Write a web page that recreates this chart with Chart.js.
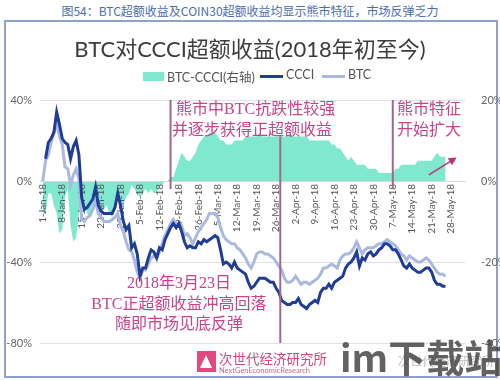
<!DOCTYPE html>
<html>
<head>
<meta charset="utf-8">
<script src="https://cdn.jsdelivr.net/npm/chart.js@4.4.0/dist/chart.umd.min.js"></script>
<style>
  body { margin: 0; width: 500px; height: 380px; position: relative; background: #fff; overflow: hidden;
         font-family: Lato, "Noto Sans CJK SC", sans-serif; }
  #caption { position: absolute; top: 2px; left: 0; width: 500px; text-align: center; font-size: 12px;
             color: #4a6db0; font-family: "Noto Sans CJK SC", sans-serif; }
  #frame { position: absolute; left: 4px; top: 20px; width: 490px; height: 354px; border: 2px solid #8fa1cf; }
  #chart { position: absolute; left: 0; top: 0; }
  #title { position: absolute; top: 31px; left: 0; width: 500px; text-align: center; font-size: 22px; color: #3c3c3c; }
  .lg { position: absolute; top: 67px; font-size: 12.5px; color: #555; }
  .sw { position: absolute; }
  #logoBox { position: absolute; left: 197px; top: 351px; width: 19px; height: 21px; background: #e2497c; }
  #logoBox:after { content: ""; position: absolute; left: 3px; top: 4px; border-left: 6.5px solid transparent;
                   border-right: 6.5px solid transparent; border-bottom: 13px solid #fff; }
  #logoCn { position: absolute; left: 219px; top: 348px; font-size: 13.5px; color: #d9477a;
            font-family: "Noto Sans CJK SC", sans-serif; }
  #logoEn { position: absolute; left: 219px; top: 366px; font-size: 7.5px; color: #c46a86; }
  #wm { position: absolute; left: 340px; top: 334px; font-size: 38px; font-weight: bold; color: rgba(70,70,70,0.85);
        font-family: "Noto Sans CJK SC", sans-serif; line-height: 44px; white-space: nowrap; }
  #wm2 { position: absolute; left: 398px; top: 352px; font-size: 12px; color: rgba(120,120,120,0.5);
         font-family: "Noto Sans CJK SC", sans-serif; }
</style>
</head>
<body>
<div id="caption">图54：BTC超额收益及COIN30超额收益均显示熊市特征，市场反弹乏力</div>
<div id="frame"></div>
<canvas id="chart" width="500" height="380"></canvas>
<div id="title">BTC对CCCI超额收益(2018年初至今)</div>
<div class="sw" style="left:143px;top:72px;width:21px;height:9px;background:#80e8cf"></div>
<div class="lg" style="left:167px">BTC-CCCI(右轴)</div>
<div class="sw" style="left:260px;top:75px;width:23px;height:3px;background:#1f3d96"></div>
<div class="lg" style="left:286px">CCCI</div>
<div class="sw" style="left:322px;top:75px;width:23px;height:3px;background:#a9b9e2"></div>
<div class="lg" style="left:348px">BTC</div>
<div id="logoBox"></div>
<div id="logoCn">次世代经济研究所</div>
<div id="logoEn">NextGenEconomicResearch</div>
<div id="wm2">次世代经济研究所</div>
<div id="wm">im下载站</div>

<script>
// day 0 = 1-Jan-18
const tickDays = [0, 7, 14, 21, 28, 35, 42, 49, 56, 63, 70, 77, 84, 91, 98, 105, 112, 119, 126, 133, 140, 147];
const tickLabels = ["1-Jan-18", "8-Jan-18", "15-Jan-18", "22-Jan-18", "29-Jan-18", "5-Feb-18", "12-Feb-18",
  "19-Feb-18", "26-Feb-18", "5-Mar-18", "12-Mar-18", "19-Mar-18", "26-Mar-18", "2-Apr-18", "9-Apr-18",
  "16-Apr-18", "23-Apr-18", "30-Apr-18", "7-May-18", "14-May-18", "21-May-18", "28-May-18"];

// CCCI excess return (%), left axis, daily from day 1
const ccciStart = 1;
const ccciVals = [
  11, 19, 21, 24, 34, 28, 21, 19, 18, 11, 17, 20, 13, -8, -14, -13, -11, -9, -3, -12,
  -15, -16, -16, -16, -16, -13, -6, -12, -20, -24, -22, -33, -31, -36, -47, -43, -43, -38, -34, -35,
  -38, -33, -34, -29, -26, -23, -21, -23, -21, -25, -30, -33, -32, -33, -33, -30, -31, -29, -30, -29,
  -28, -27, -28, -34, -41, -40, -41, -43, -40, -43, -44, -45, -46, -50, -53, -52, -50, -48, -48, -48,
  -49, -50, -50, -53, -55, -59, -60, -61, -61, -60, -60, -58, -61, -62, -63, -61, -60, -59, -60, -55,
  -53, -53, -51, -53, -50, -49, -48, -47, -43, -41, -40, -38, -35, -42, -38, -39, -36, -35, -37, -36,
  -34, -33, -31, -31, -32, -34, -34, -36, -39, -42, -43, -41, -43, -44, -45, -45, -44, -43, -43, -45,
  -49, -51, -51, -52, -52];

// BTC excess return (%), left axis, daily from day 0
const btcStart = 0;
const btcVals = [
  0, 10, 13, 19, 24, 28, 22, 18, 7, 6, -2, 3, 6, 1, -19, -20, -18, -17, -14, -10,
  -16, -18, -20, -20, -20, -19, -18, -16, -22, -25, -30, -34, -35, -39, -45, -48, -44, -44, -41, -38,
  -37, -38, -35, -31, -27, -24, -21, -19, -21, -21, -22, -27, -26, -28, -31, -28, -25, -23, -21, -19,
  -16, -16, -16, -18, -23, -27, -29, -30, -31, -31, -33, -34, -36, -38, -41, -43, -40, -36, -35, -35,
  -36, -36, -37, -38, -40, -42, -44, -48, -50, -50, -49, -47, -49, -51, -50, -50, -51, -50, -49, -48,
  -46, -43, -43, -42, -41, -42, -43, -39, -37, -36, -36, -35, -33, -30, -33, -36, -34, -33, -33, -33,
  -32, -31, -31, -30, -29, -30, -31, -32, -34, -36, -37, -39, -37, -38, -39, -40, -40, -39, -38, -39,
  -41, -43, -45, -46, -46, -47];

// BTC-CCCI (%), right axis, daily from day 0
const spreadStart = 0;
const spreadVals = [
  -8, -8, -3, -3, -6, -8, -13, -12, -4, -2, -11, -15, -14, -8, -3, -5, -8, -9, -6, -5,
  -7, -8, -7, -6, -8, -9, -6, -4, -5, -6, -4, -3, -1, -2, -3, -4, -3, -2, -3, -2,
  -3, -3, -1, -1, 0, 0, 1, 1, 3, 5, 7, 6, 5, 5, 6, 7, 9, 10, 11, 11,
  12, 12, 12, 11, 10, 10, 9, 9, 9, 10, 10, 10, 10, 11, 11, 11, 11, 11, 12, 11,
  11, 11, 11, 11, 11, 11, 11, 11, 11, 12, 11, 11, 11, 11, 11, 11, 10, 10, 10, 10,
  10, 10, 10, 10, 9, 9, 8, 8, 7, 6, 5, 6, 5, 4, 4, 4, 4, 3, 3, 3,
  3, 2, 2, 2, 2, 2, 2, 3, 3, 4, 4, 4, 4, 4, 4, 5, 5, 5, 5, 5,
  5, 6, 7, 6, 6, 6];

const toPoints = (start, vals) => vals.map((v, i) => ({ x: start + i, y: v }));

// annotation marks: vertical lines (day, from %, to % on left axis)
const markLines = [
  { day: 46, from: 40, to: -4 },
  { day: 85.5, from: 22, to: -80 },
  { day: 126, from: 40, to: -4 }
];
const noteTexts = [
  { text: "熊市中BTC抗跌性较强", day: 48, val: 35, align: "left" },
  { text: "并逐步获得正超额收益", day: 46.5, val: 25, align: "left" },
  { text: "熊市特征", day: 127.5, val: 35, align: "left" },
  { text: "开始扩大", day: 127.5, val: 25, align: "left" },
  { text: "2018年3月23日", day: 49, val: -51, align: "center" },
  { text: "BTC正超额收益冲高回落", day: 49, val: -61, align: "center" },
  { text: "随即市场见底反弹", day: 49, val: -71, align: "center" }
];
const arrowFrom = { day: 139, val: 1.5 };
const arrowTo = { day: 149, val: 5.8 };

const notesPlugin = {
  id: "notes",
  afterDatasetsDraw(chart) {
    const { ctx } = chart;
    const x = chart.scales.x, y = chart.scales.y, y2 = chart.scales.y2;
    ctx.save();
    ctx.strokeStyle = "#a2668f";
    ctx.lineWidth = 2;
    markLines.forEach((m) => {
      const px = x.getPixelForValue(m.day);
      ctx.beginPath();
      ctx.moveTo(px, y.getPixelForValue(m.from));
      ctx.lineTo(px, y.getPixelForValue(m.to));
      ctx.stroke();
    });
    ctx.fillStyle = "#c9428c";
    ctx.font = '16px "Liberation Serif", "Noto Sans CJK SC"';
    ctx.textBaseline = "middle";
    noteTexts.forEach((t) => {
      ctx.textAlign = t.align;
      ctx.fillText(t.text, x.getPixelForValue(t.day), y.getPixelForValue(t.val));
    });
    // arrow
    const x0 = x.getPixelForValue(arrowFrom.day), yA = y2.getPixelForValue(arrowFrom.val);
    const x1 = x.getPixelForValue(arrowTo.day), yB = y2.getPixelForValue(arrowTo.val);
    const ang = Math.atan2(yB - yA, x1 - x0);
    ctx.strokeStyle = "#b8357a";
    ctx.fillStyle = "#b8357a";
    ctx.lineWidth = 1.5;
    ctx.beginPath();
    ctx.moveTo(x0, yA);
    ctx.lineTo(x1 - 6 * Math.cos(ang), yB - 6 * Math.sin(ang));
    ctx.stroke();
    ctx.beginPath();
    ctx.moveTo(x1, yB);
    ctx.lineTo(x1 - 8 * Math.cos(ang) + 4 * Math.sin(ang), yB - 8 * Math.sin(ang) - 4 * Math.cos(ang));
    ctx.lineTo(x1 - 8 * Math.cos(ang) - 4 * Math.sin(ang), yB - 8 * Math.sin(ang) + 4 * Math.cos(ang));
    ctx.closePath();
    ctx.fill();
    ctx.restore();
  }
};

const tickFont = { family: 'Lato, "Noto Sans CJK SC"', size: 11 };

new Chart(document.getElementById("chart"), {
  type: "line",
  data: {
    datasets: [
      {
        label: "CCCI",
        data: toPoints(ccciStart, ccciVals),
        borderColor: "#1f3d96",
        borderWidth: 3,
        pointRadius: 0,
        fill: false,
        yAxisID: "y",
        order: 1
      },
      {
        label: "BTC",
        data: toPoints(btcStart, btcVals),
        borderColor: "#a9b9e2",
        borderWidth: 3,
        pointRadius: 0,
        fill: false,
        yAxisID: "y",
        order: 2
      },
      {
        label: "BTC-CCCI(右轴)",
        data: toPoints(spreadStart, spreadVals),
        borderColor: "rgba(0,0,0,0)",
        borderWidth: 0,
        backgroundColor: "#80e8cf",
        pointRadius: 0,
        fill: "origin",
        yAxisID: "y2",
        order: 3
      }
    ]
  },
  options: {
    responsive: false,
    animation: false,
    layout: { padding: { top: 100, bottom: 37, left: 0, right: 0 } },
    plugins: {
      legend: { display: false },
      title: { display: false },
      tooltip: { enabled: false },
      filler: { drawTime: "beforeDraw" }
    },
    scales: {
      x: {
        type: "linear",
        min: -1,
        max: 152,
        position: { y: 0 },
        grid: { display: false, drawTicks: false },
        border: { display: true, color: "#d9d9d9" },
        afterBuildTicks: (s) => { s.ticks = tickDays.map((d) => ({ value: d })); },
        ticks: {
          autoSkip: false,
          minRotation: 90,
          maxRotation: 90,
          padding: 3,
          color: "#555",
          font: { family: 'Lato, "Noto Sans CJK SC"', size: 10 },
          callback: (v, i) => tickLabels[i]
        }
      },
      y: {
        position: "left",
        min: -80,
        max: 40,
        ticks: { stepSize: 40, padding: 8, color: "#666", font: tickFont, callback: (v) => v + "%" },
        grid: { color: "#e2e2e2", drawTicks: false },
        border: { display: false },
        afterFit: (s) => { s.width = 40; }
      },
      y2: {
        position: "right",
        min: -40,
        max: 20,
        ticks: { stepSize: 20, padding: 8, color: "#666", font: tickFont, callback: (v) => v + "%" },
        grid: { display: false },
        border: { display: false },
        afterFit: (s) => { s.width = 35; }
      }
    }
  },
  plugins: [notesPlugin]
});
</script>
</body>
</html>
